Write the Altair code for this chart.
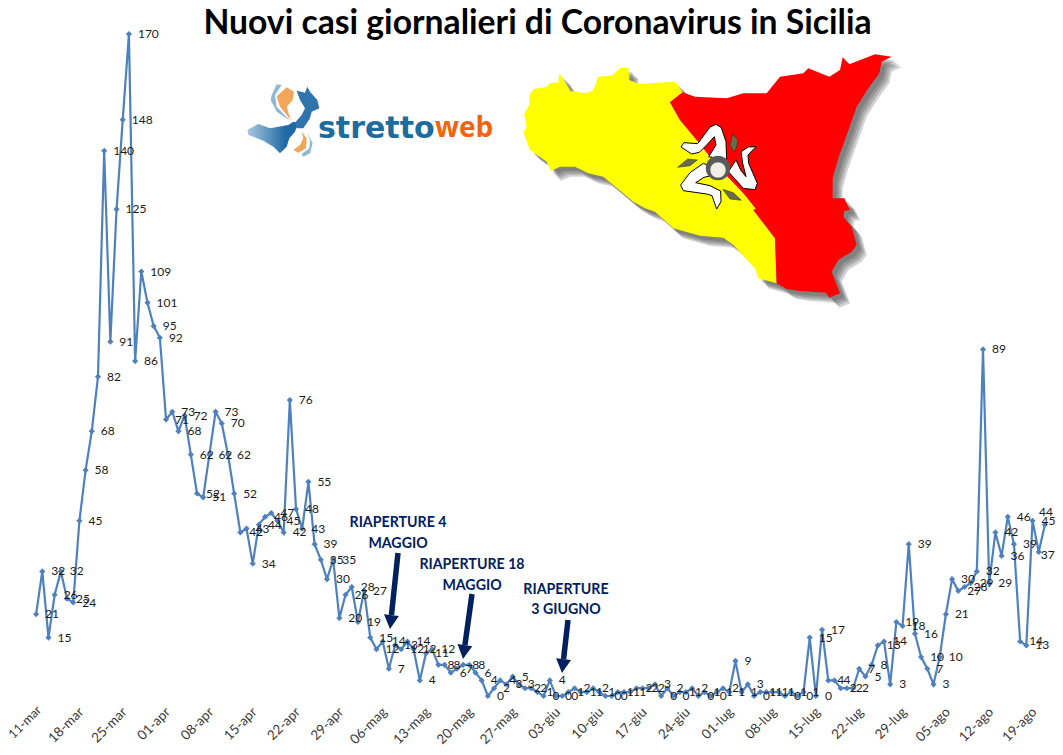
import altair as alt
import pandas as pd

TITLE = "Nuovi casi giornalieri di Coronavirus in Sicilia"

# Daily categories: (month label, first day, last day)
MONTHS = [("mar", 11, 31), ("apr", 1, 30), ("mag", 1, 31), ("giu", 1, 30), ("lug", 1, 31), ("ago", 1, 21)]
days = [f"{d:02d}-{m}" for m, a, b in MONTHS for d in range(a, b + 1)]

cases = [
    21, 32, 15, 26, 32, 25, 24, 45, 58, 68, 82, 140, 91, 125, 148, 170, 86, 109, 101, 95, 92,
    71, 73, 68, 72, 62, 52, 51, 62, 73, 70, 62, 52, 42, 43, 34, 44, 46, 47, 45, 42, 76, 48, 43, 55, 39, 35, 30, 35, 20, 26,
    28, 19, 27, 15, 12, 14, 7, 13, 12, 14, 12, 4, 11, 12, 8, 8, 6, 7, 8, 8, 6, 4, 0, 2, 4, 3, 5, 3, 2, 2, 1,
    0, 4, 0, 0, 1, 2, 1, 1, 2, 1, 0, 0, 1, 1, 1, 2, 2, 2, 3, 0, 2, 0, 1, 1, 2, 0, 1, 0, 1, 2, 1, 9, 1, 3, 0, 1, 1, 1, 1, 0, 1, 0, 1,
    15, 0, 17, 4, 4, 2, 2, 2, 7, 5, 8, 13, 14, 3, 19, 18, 39, 16, 10, 7, 3, 10, 21, 30, 27, 28, 29, 32, 89, 29, 42, 36, 46, 39, 14, 13, 45, 37, 44,
]

tick_labels = days[::7]

BLUE = "#4F81BD"
NAVY = "#002060"

df = pd.DataFrame({"giorno": days, "casi": cases})
scale_x = alt.Scale(type="band", domain=days, range=[17, 1032], paddingInner=0, paddingOuter=0)

x_enc = alt.X(
    "giorno:N",
    scale=scale_x,
    axis=alt.Axis(values=tick_labels, title=None, labels=False, ticks=False, grid=False,
                  domainColor="#8c8c8c", domainWidth=1.2),
)
y_enc = alt.Y("casi:Q", scale=alt.Scale(domain=[0, 170], range=[648, -14]), axis=None)

base = alt.Chart(df).encode(x=x_enc, y=y_enc)
line = base.mark_line(color=BLUE, strokeWidth=2.2)
dots = base.mark_point(shape="diamond", filled=True, color=BLUE, size=38, opacity=1)

value_style = dict(baseline="middle", font="Lato", fontSize=12, color="#1a1a1a")
labels = alt.Chart(df.iloc[:-2]).mark_text(align="left", dx=9, **value_style).encode(x=x_enc, y=y_enc, text="casi:Q")
# the last two labels would run off the right of the page, so they sit closer to their points
label_37 = alt.Chart(df.iloc[[-2]]).mark_text(align="left", dx=2, dy=3, **value_style).encode(x=x_enc, y=y_enc, text="casi:Q")
label_44 = alt.Chart(df.iloc[[-1]]).mark_text(align="center", dx=1, dy=-13, **value_style).encode(x=x_enc, y=y_enc, text="casi:Q")

tick_style = dict(angle=315, align="right", baseline="middle", font="Lato", color="#3a3a3a")
tick_text = alt.Chart(pd.DataFrame({"giorno": tick_labels[1:]})).mark_text(fontSize=13.5, **tick_style).encode(
    x=alt.X("giorno:N", scale=scale_x, bandPosition=0.85, axis=None),
    y=alt.value(662),
    text="giorno:N",
)
# the first label is nudged so it stays inside the page's left edge
tick_first = alt.Chart(pd.DataFrame({"giorno": tick_labels[:1]})).mark_text(fontSize=12.5, **tick_style).encode(
    x=alt.X("giorno:N", scale=scale_x, bandPosition=1, axis=None),
    y=alt.value(660),
    text="giorno:N",
)

one = alt.Data(values=[{"a": 1}])


def poly(points):
    return "M" + " L".join(f"{a} {b}" for a, b in points) + " Z"


def shape(path, px, py, fill, scale=1 / 3, opacity=1.0, stroke=None, sw=0):
    """A decorative polygon placed at page pixels px,py; its path is in zoomed units."""
    kw = dict(shape=path, filled=True, fill=fill, size=(2 * scale) ** 2, opacity=opacity, strokeWidth=sw)
    if stroke:
        kw["stroke"] = stroke
    return alt.Chart(one).mark_point(**kw).encode(x=alt.value(px - 16), y=alt.value(py - 48))


def caption(text, px, py, **style):
    return alt.Chart(alt.Data(values=[{"t": text}])).mark_text(**style).encode(
        x=alt.value(px - 16), y=alt.value(py - 48), text="t:N"
    )


# ---- Sicily flag map (outline in 3x zoomed units, origin at page 510,45)
yellow = [(148,85),(182,138),(228,145),(250,135),(265,95),(305,92),(333,68),(355,70),(358,105),(388,117),(495,110),(518,142),
          (480,172),(510,225),(560,285),(620,360),(705,450),(738,492),(730,495),(795,580),(800,715),(745,700),(735,670),(670,600),
          (640,578),(570,572),(490,550),(435,500),(405,490),(370,470),(280,395),(235,385),(195,365),(150,365),(122,378),(110,350),
          (60,315),(40,262),(50,245),(42,207),(58,180),(58,150),(72,132),(112,125),(118,115),(145,112)]
red = [(518,142),(555,155),(650,160),(700,145),(770,145),(810,95),(880,85),(895,70),(958,95),(990,75),(998,37),(1018,58),(1095,28),
       (1145,35),(1115,50),(1108,85),(1075,130),(1040,185),(1010,270),(985,340),(968,400),(968,460),(1003,460),(1020,495),(1003,497),
       (1000,515),(1025,545),(1040,600),(1025,620),(985,645),(965,680),(990,745),(958,758),(948,743),(870,738),(830,732),(800,715),
       (795,580),(730,495),(738,492),(705,450),(620,360),(560,285),(510,225),(480,172)]
outer = yellow[:12] + red[1:36] + yellow[20:]
leg1 = [(650,345),(648,290),(634,248),(618,238),(600,246),(563,296),(522,293),(513,306),(545,327),(568,322),(590,300),(613,275),(618,300),(596,335)]
leg2 = [(655,380),(700,430),(735,434),(742,415),(716,355),(714,330),(738,305),(715,306),(693,320),(698,355),(708,395),(692,375),(678,345)]
leg3 = [(605,365),(580,355),(540,383),(512,420),(520,437),(590,447),(606,452),(620,492),(633,470),(632,438),(600,422),(557,413),(582,397),(610,390)]
wheat1 = [(668,268),(684,285),(680,305),(672,322),(660,300)]
wheat2 = [(503,367),(533,342),(562,345),(540,362)]
wheat3 = [(638,433),(670,443),(694,466),(660,462)]

flag = [shape(poly(outer), 510 + o, 45 + o, "#444444", opacity=0.24) for o in (4, 6, 8, 10)]
flag += [
    shape(poly(yellow), 510, 45, "#FFFF00"),
    shape(poly(red), 510, 45, "#FF0000"),
    shape(poly(wheat1), 510, 45, "#6b6b4a", stroke="#222222", sw=0.5),
    shape(poly(wheat2), 510, 45, "#6b6b4a", stroke="#222222", sw=0.5),
    shape(poly(wheat3), 510, 45, "#6b6b4a", stroke="#222222", sw=0.5),
    shape(poly(leg1), 510, 45, "#FFFFFF", stroke="#000000", sw=1),
    shape(poly(leg2), 510, 45, "#FFFFFF", stroke="#000000", sw=1),
    shape(poly(leg3), 510, 45, "#FFFFFF", stroke="#000000", sw=1),
]
flag.append(alt.Chart(one).mark_point(shape="circle", filled=True, fill="#5a5a5a", size=600, opacity=1)
            .encode(x=alt.value(718 - 16), y=alt.value(168 - 48)))
flag.append(alt.Chart(one).mark_point(shape="circle", filled=True, fill="#f3efe4", size=260, opacity=1, stroke="#555555", strokeWidth=0.6)
            .encode(x=alt.value(718 - 16), y=alt.value(170 - 48)))

# ---- strettoweb logo (outline in 3x zoomed units, origin at page 230,50)
sic_logo = [(52,240),(85,222),(120,235),(175,225),(190,215),(205,218),(195,245),(178,265),(170,290),(150,310),(130,290),(100,272),(70,260),(55,255)]
cal_logo = [(200,122),(225,128),(232,110),(240,125),(262,150),(268,175),(245,185),(240,205),(220,235),(200,235),(195,218),(215,195),(225,175),(210,150)]
swoosh_o1 = [(150,130),(170,112),(192,125),(188,150),(170,170),(182,210),(150,170),(140,140)]
swoosh_b1 = [(125,135),(140,103),(155,105),(135,135),(140,170),(180,212),(140,185),(122,150)]
swoosh_o2 = [(215,245),(230,265),(228,295),(205,308),(190,300),(210,285),(220,265)]
swoosh_b2 = [(230,245),(248,280),(240,310),(220,320),(215,312),(238,295),(240,270)]
logo_grad = alt.LinearGradient(gradient="linear", x1=0, x2=1, y1=0, y2=0,
                               stops=[alt.GradientStop(color="#a9c8df", offset=0), alt.GradientStop(color="#1f6aa5", offset=0.75)])
logo = [
    shape(poly(swoosh_b1), 230, 50, "#8fb8d6"),
    shape(poly(swoosh_o1), 230, 50, "#f2a65a"),
    shape(poly(swoosh_b2), 230, 50, "#8fb8d6"),
    shape(poly(swoosh_o2), 230, 50, "#f2a65a"),
    shape(poly(sic_logo), 230, 50, logo_grad),
    shape(poly(cal_logo), 230, 50, "#2f74ad"),
    caption("stretto", 318, 129, font="DejaVu Sans", fontWeight="bold", fontSize=30, align="left", color="#1b6d9f"),
    caption("web", 435, 129, font="Open Sans", fontWeight="bold", fontSize=28, align="left", color="#f0640f"),
]

# ---- annotations
note = dict(font="Lato", fontWeight="bold", fontSize=14.2, align="center", baseline="middle", color=NAVY)
notes = [
    caption("RIAPERTURE 4", 398, 523, **note),
    caption("MAGGIO", 398, 544, **note),
    caption("RIAPERTURE 18", 472, 565, **note),
    caption("MAGGIO", 472, 586, **note),
    caption("RIAPERTURE", 566, 590, **note),
    caption("3 GIUGNO", 566, 610, **note),
]


def arrow(x0, y0, x1, y1):
    dx, dy = x1 - x0, y1 - y0
    n = (dx * dx + dy * dy) ** 0.5
    ux, uy = dx / n, dy / n
    bx, by = x1 - ux * 14, y1 - uy * 14
    head = [(round(x1, 1), round(y1, 1)), (round(bx - uy * 7.5, 1), round(by + ux * 7.5, 1)), (round(bx + uy * 7.5, 1), round(by - ux * 7.5, 1))]
    shaft = alt.Chart(one).mark_rule(color=NAVY, strokeWidth=5.5).encode(
        x=alt.value(x0 - 16), x2=alt.value(bx - 16), y=alt.value(y0 - 48), y2=alt.value(by - 48)
    )
    return [shaft, shape(poly(head), 0, 0, NAVY, scale=1)]


arrows = arrow(398, 553, 390, 629) + arrow(472, 594, 463, 659) + arrow(568, 620, 562, 673)

chart = alt.layer(*flag, *logo, line, dots, labels, label_37, label_44, tick_text, tick_first, *notes, *arrows).properties(
    width=1039,
    height=648,
    padding={"left": 8, "top": 40, "right": 0, "bottom": 51},
    autosize=alt.AutoSizeParams(type="none"),
    title=alt.TitleParams(TITLE, font="Lato", fontWeight="bold", fontSize=33.7, color="#000000", anchor="middle", offset=14, dx=2, dy=27),
).configure_view(stroke=None)

chart.save("out.html", embed_options={"renderer": "svg", "actions": False})
